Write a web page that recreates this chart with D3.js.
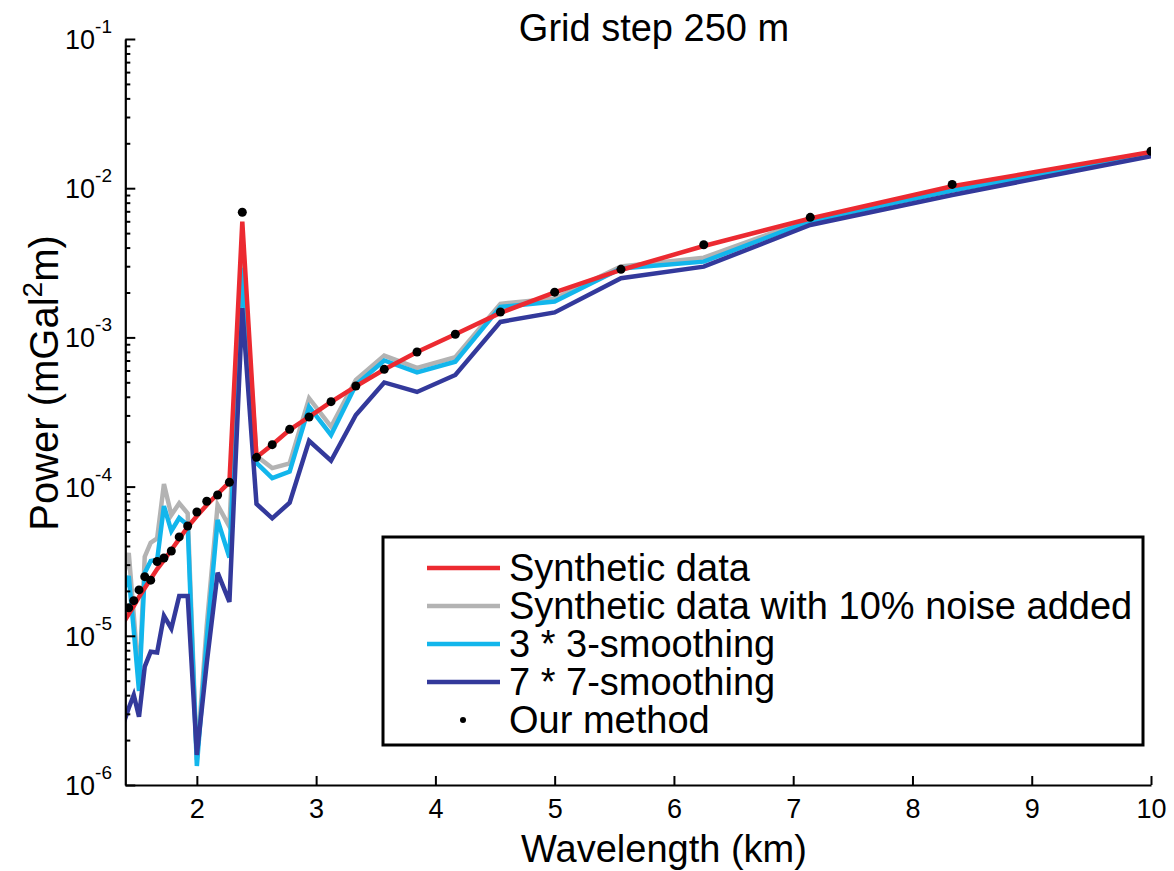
<!DOCTYPE html>
<html>
<head>
<meta charset="utf-8">
<script src="https://cdn.jsdelivr.net/npm/d3@7/dist/d3.min.js"></script>
<style>
    body { margin: 0; background: #fff; }
    text { font-family: "Liberation Sans", Arial, Helvetica, sans-serif; fill: #000; }
</style>
</head>
<body>
<script>
// wavelengths (km) of the spectrum samples, grid step 250 m
const wavelength = [1.389, 1.429, 1.471, 1.515, 1.563, 1.613, 1.667, 1.724, 1.786, 1.852, 1.923,
    2.0, 2.083, 2.174, 2.273, 2.381, 2.5, 2.632, 2.778, 2.941, 3.125, 3.333, 3.571, 3.846,
    4.167, 4.545, 5.0, 5.556, 6.25, 7.143, 8.333, 10.0];

// power (mGal^2 m)
const synthetic = [1.24e-5, 1.40e-5, 1.58e-5, 1.82e-5, 2.09e-5, 2.40e-5, 2.80e-5, 3.22e-5, 3.76e-5, 4.46e-5, 5.36e-5,
    6.35e-5, 7.53e-5, 8.92e-5, 1.07e-4, 5.97e-3, 1.57e-4, 1.91e-4, 2.40e-4, 2.93e-4, 3.69e-4, 4.69e-4, 6.09e-4, 7.98e-4,
    1.05e-3, 1.46e-3, 2.00e-3, 2.83e-3, 4.10e-3, 6.27e-3, 1.03e-2, 1.75e-2];
const noisy = [2.56e-5, 3.59e-5, 1.38e-5, 4.83e-6, 3.39e-5, 4.21e-5, 4.50e-5, 1.04e-4, 6.45e-5, 7.73e-5, 6.62e-5,
    1.47e-6, 1.18e-5, 7.53e-5, 5.39e-5, 3.85e-3, 1.60e-4, 1.33e-4, 1.43e-4, 3.91e-4, 2.52e-4, 5.18e-4, 7.56e-4, 6.24e-4,
    7.36e-4, 1.68e-3, 1.82e-3, 2.99e-3, 3.42e-3, 6.22e-3, 9.80e-3, 1.71e-2];
const smooth3 = [2.03e-5, 2.52e-5, 1.09e-5, 4.27e-6, 2.64e-5, 3.17e-5, 3.22e-5, 7.41e-5, 5.04e-5, 6.16e-5, 5.53e-5,
    1.34e-6, 9.37e-6, 5.97e-5, 3.35e-5, 2.92e-3, 1.44e-4, 1.14e-4, 1.26e-4, 3.43e-4, 2.22e-4, 4.80e-4, 7.00e-4, 5.82e-4,
    6.87e-4, 1.60e-3, 1.74e-3, 2.90e-3, 3.22e-3, 6.03e-3, 9.65e-3, 1.70e-2];
const smooth7 = [2.64e-6, 3.28e-6, 4.01e-6, 2.87e-6, 6.21e-6, 7.82e-6, 7.73e-6, 1.36e-5, 1.12e-5, 1.85e-5, 1.85e-5,
    1.59e-6, 6.57e-6, 2.65e-5, 1.69e-5, 1.57e-3, 7.65e-5, 6.13e-5, 7.80e-5, 2.03e-4, 1.49e-4, 3.02e-4, 4.99e-4, 4.31e-4,
    5.60e-4, 1.27e-3, 1.47e-3, 2.49e-3, 2.98e-3, 5.67e-3, 9.00e-3, 1.64e-2];
const ourMethod = [null, 1.54e-5, 1.72e-5, 2.03e-5, 2.49e-5, 2.36e-5, 3.15e-5, 3.32e-5, 3.70e-5, 4.60e-5, 5.44e-5,
    6.76e-5, 7.97e-5, 8.78e-5, 1.07e-4, 6.90e-3, 1.57e-4, 1.91e-4, 2.42e-4, 2.93e-4, 3.71e-4, 4.72e-4, 6.11e-4, 7.98e-4,
    1.05e-3, 1.48e-3, 2.01e-3, 2.86e-3, 4.18e-3, 6.38e-3, 1.06e-2, 1.77e-2];

const xTicks = [2, 3, 4, 5, 6, 7, 8, 9, 10];
const yExponents = [-6, -5, -4, -3, -2, -1];
const legendLabels = ["Synthetic data", "Synthetic data with 10% noise added", "3 * 3-smoothing", "7 * 7-smoothing", "Our method"];

const colors = {synthetic: "#ec2a31", noisy: "#b3b3b3", smooth3: "#12b6ec", smooth7: "#33399b"};

// drawing order: red sits on top of the other curves
const series = [
    {name: legendLabels[1], values: noisy, color: colors.noisy},
    {name: legendLabels[2], values: smooth3, color: colors.smooth3},
    {name: legendLabels[3], values: smooth7, color: colors.smooth7},
    {name: legendLabels[0], values: synthetic, color: colors.synthetic}
];

const W = 1174, H = 871;
const plot = {left: 125.3, right: 1151, top: 39, bottom: 785};
const bigFont = 38;
const tickFont = 27;

const svg = d3.select("body").append("svg").attr("width", W).attr("height", H);

const x = d3.scaleLinear().domain([1.4, 10]).range([plot.left, plot.right]);
const y = d3.scaleLog().domain([1e-6, 1e-1]).range([plot.bottom, plot.top]);

svg.append("clipPath").attr("id", "clip")
    .append("rect")
    .attr("x", plot.left).attr("y", plot.top)
    .attr("width", plot.right - plot.left).attr("height", plot.bottom - plot.top);

// lines
const line = d3.line()
    .defined(d => d[1] != null)
    .x(d => x(d[0]))
    .y(d => y(d[1]));

let lineGroup = svg.append("g").attr("clip-path", "url(#clip)");
lineGroup.selectAll("path")
    .data(series)
    .join("path")
    .attr("d", s => line(wavelength.map((w, i) => [w, s.values[i]])))
    .attr("fill", "none")
    .attr("stroke", s => s.color)
    .attr("stroke-width", 4.5)
    .attr("stroke-linejoin", "miter");

lineGroup.selectAll("circle")
    .data(wavelength.map((w, i) => [w, ourMethod[i]]).filter(d => d[1] != null))
    .join("circle")
    .attr("cx", d => x(d[0]))
    .attr("cy", d => y(d[1]))
    .attr("r", 4.5)
    .attr("fill", "#000");

// x axis, ticks pointing inward
let xAxis = svg.append("g")
    .attr("transform", "translate(0," + plot.bottom + ")")
    .call(d3.axisBottom(x).tickValues(xTicks).tickSizeInner(-9).tickSizeOuter(0).tickPadding(14).tickFormat(d3.format("d")));
xAxis.attr("font-size", null).attr("font-family", null);
xAxis.select(".domain").attr("stroke-width", 2.2);
xAxis.selectAll(".tick line").attr("stroke-width", 2);
xAxis.selectAll(".tick text").style("font-size", tickFont + "px").attr("dy", "0.71em");

// y axis: minor ticks, then major ticks
let minors = [];
yExponents.slice(0, -1).forEach(e => {
    for (let k = 2; k <= 9; k++) minors.push(k * Math.pow(10, e));
});
let yMinor = svg.append("g")
    .attr("transform", "translate(" + plot.left + ",0)")
    .call(d3.axisLeft(y).tickValues(minors).tickSizeInner(-5).tickSizeOuter(0).tickFormat(""));
yMinor.selectAll(".tick line").attr("stroke-width", 2);
yMinor.select(".domain").remove();

let yAxis = svg.append("g")
    .attr("transform", "translate(" + plot.left + ",0)")
    .call(d3.axisLeft(y).tickValues(yExponents.map(e => Math.pow(10, e))).tickSizeInner(-10).tickSizeOuter(0).tickFormat(""));
yAxis.select(".domain").attr("stroke-width", 2.2);
yAxis.selectAll(".tick line").attr("stroke-width", 2);

// decade labels with superscript exponents
let yLabels = svg.append("g").selectAll("text")
    .data(yExponents)
    .join("text")
    .attr("x", 112)
    .attr("y", e => y(Math.pow(10, e)) + 10)
    .attr("text-anchor", "end")
    .style("font-size", tickFont + "px");
yLabels.append("tspan").text("10");
yLabels.append("tspan").style("font-size", "19px").attr("dy", -16).text(e => e);

// titles
svg.append("text")
    .attr("x", 654).attr("y", 41)
    .attr("text-anchor", "middle").style("font-size", bigFont + "px")
    .text("Grid step 250 m");

svg.append("text")
    .attr("x", 664).attr("y", 862)
    .attr("text-anchor", "middle").style("font-size", bigFont + "px")
    .text("Wavelength (km)");

let yTitle = svg.append("text")
    .attr("transform", "translate(58,383) rotate(-90)")
    .attr("text-anchor", "middle").style("font-size", "40px");
yTitle.append("tspan").text("Power (mGal");
yTitle.append("tspan").style("font-size", "28px").attr("dy", -16).text("2");
yTitle.append("tspan").attr("dy", 16).text("m)");

// legend
const legend = {x: 383, y: 537, w: 760, h: 208, rowTop: 568, rowStep: 38};
let lg = svg.append("g");
lg.append("rect")
    .attr("x", legend.x).attr("y", legend.y)
    .attr("width", legend.w).attr("height", legend.h)
    .attr("fill", "#fff").attr("stroke", "#000").attr("stroke-width", 3);

const legendItems = [
    {label: legendLabels[0], color: colors.synthetic, type: "line"},
    {label: legendLabels[1], color: colors.noisy, type: "line"},
    {label: legendLabels[2], color: colors.smooth3, type: "line"},
    {label: legendLabels[3], color: colors.smooth7, type: "line"},
    {label: legendLabels[4], color: "#000", type: "dot"}
];
let rows = lg.selectAll("g.row")
    .data(legendItems)
    .join("g")
    .attr("class", "row")
    .attr("transform", (d, i) => "translate(0," + (legend.rowTop + i * legend.rowStep) + ")");
rows.filter(d => d.type == "line").append("line")
    .attr("x1", 427).attr("x2", 500).attr("y1", 0).attr("y2", 0)
    .attr("stroke", d => d.color).attr("stroke-width", 4.5);
rows.filter(d => d.type == "dot").append("circle")
    .attr("cx", 463).attr("cy", 0).attr("r", 3).attr("fill", "#000");
rows.append("text")
    .attr("x", 509).attr("y", 13)
    .style("font-size", bigFont + "px")
    .text(d => d.label);
</script>
</body>
</html>
